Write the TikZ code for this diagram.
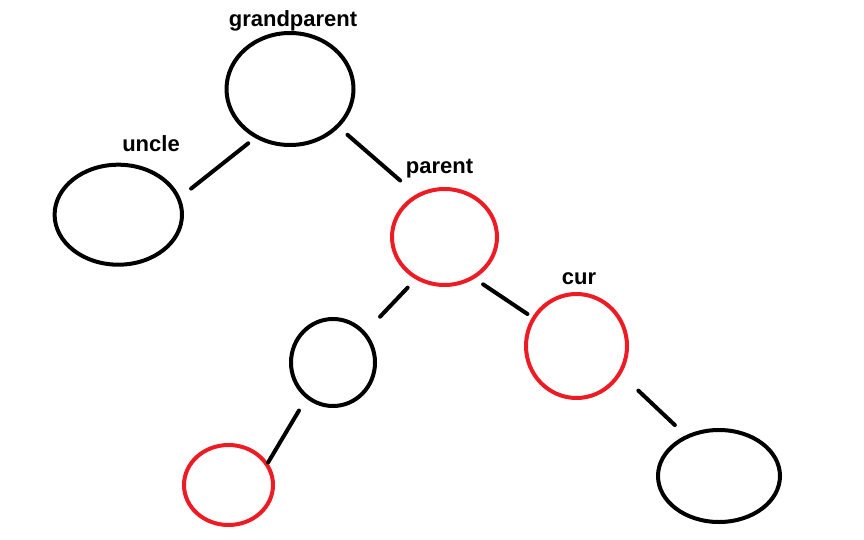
\documentclass[tikz,border=0pt]{standalone}
\usepackage{fontspec}
\setmainfont{Liberation Sans}
\usetikzlibrary{shapes.geometric}
\definecolor{paintred}{RGB}{237,28,36}
\tikzset{
  treenode/.style={ellipse, draw=black, line width=4pt, inner sep=0pt, outer sep=0pt},
  rednode/.style={treenode, draw=paintred},
  link/.style={line width=4pt, line cap=round},
  tag/.style={anchor=base, font=\fontsize{22}{26}\selectfont\bfseries}
}
\begin{document}
\begin{tikzpicture}[x=1pt,y=-1pt]
\useasboundingbox (0,0) rectangle (864,540);

% Tree nodes
\node[treenode, minimum width=127pt, minimum height=112pt] (grandparent) at (290,89) {};
\node[treenode, minimum width=127.4pt, minimum height=100pt] (uncle) at (118.3,214.7) {};
\node[rednode, minimum width=105pt, minimum height=96pt] (parent) at (444.5,237) {};
\node[treenode, minimum width=84pt, minimum height=87pt] (sibling) at (333,362.5) {};
\node[rednode, minimum width=101pt, minimum height=104pt] (cur) at (576.5,346) {};
\node[rednode, minimum width=89pt, minimum height=80pt] (nephew) at (228.5,485) {};
\node[treenode, minimum width=122pt, minimum height=92pt] (child) at (719,476) {};

% Labels above the nodes
\node[tag] (gplabel) at (293,27) {grandparent};
\node[tag] (unclelabel) at (151,152) {uncle};
\node[tag] (parentlabel) at (439.5,174) {parent};
\node[tag] (curlabel) at (579,284.3) {cur};

% Links (short strokes with gaps to the nodes)
\draw[link, shorten <=10.7pt, shorten >=16pt] (grandparent.-125) -- (uncle.15);
\draw[link, shorten <=13.2pt, shorten >=23.2pt] (grandparent.-38) -- (parent.123);
\draw[link, shorten <=13.5pt, shorten >=23pt] (parent.-124) -- (sibling.43);
\draw[link, shorten <=12.4pt, shorten >=7.6pt] (parent.-55) -- (cur.147);
\draw[link, shorten <=16pt, shorten >=2.5pt] (sibling.-127) -- (nephew.28);
\draw[link, shorten <=25.7pt, shorten >=17pt] (cur.-32) -- (child.129);

\end{tikzpicture}
\end{document}
